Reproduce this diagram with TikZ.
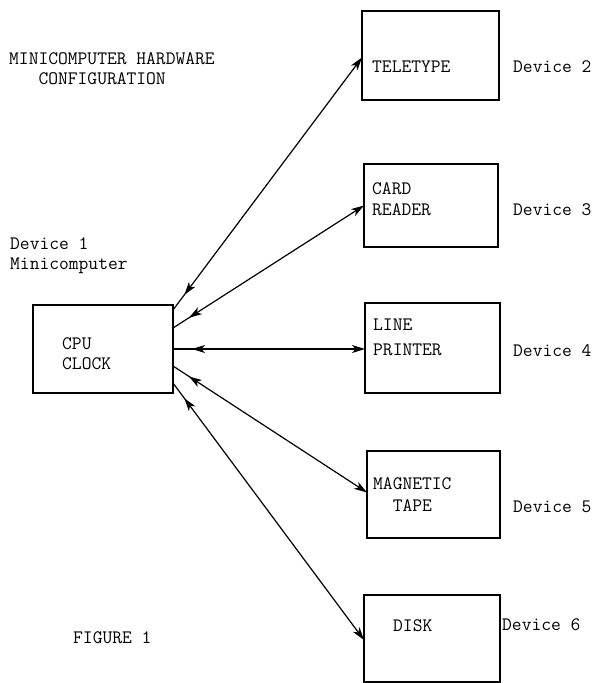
\documentclass[tikz,border=0pt]{standalone}
\usepackage{fontspec}
\usetikzlibrary{arrows.meta,decorations.markings}
\begin{document}
\begin{tikzpicture}[x=1pt,y=-1pt,
  box/.style={draw,line width=2.4pt,rectangle,inner sep=0pt,outer sep=0pt},
  txt/.style={font=\ttfamily\fontsize{19}{20}\selectfont,inner sep=0pt,anchor=base west,align=left},
  tip/.tip={Stealth[length=13pt,width=8pt,inset=3.5pt]},
  link/.style={line width=1.2pt,-tip,postaction={decorate},
    decoration={markings,mark=at position 19pt with {\arrowreversed{tip}}}}]
\useasboundingbox (0,0) rectangle (594,683);
% boxes
\node[box,minimum width=140pt,minimum height=88pt] (cpu) at (103,349) {};
\node[box,minimum width=137pt,minimum height=89pt] (tele) at (430.5,55.5) {};
\node[box,minimum width=134pt,minimum height=83pt] (card) at (431,205.5) {};
\node[box,minimum width=135pt,minimum height=90pt] (lp) at (432.5,348) {};
\node[box,minimum width=133pt,minimum height=87pt] (mt) at (433.5,494.5) {};
\node[box,minimum width=136pt,minimum height=87pt] (disk) at (432,638.5) {};
% texts (multi-line nodes: base = last line)
\node[txt] (title) at (9,84) {MINICOMPUTER HARDWARE\\\phantom{MIN}CONFIGURATION};
\node[txt] (dev1) at (10,269) {Device 1\\Minicomputer};
\node[txt] (cputxt) at (62,369) {CPU\\CLOCK};
\node[txt] (teletxt) at (372,72) {TELETYPE};
\node[txt] (dev2) at (513,72) {Device 2};
\node[txt] (cardtxt) at (372,215) {CARD\\[1pt]READER};
\node[txt] (dev3) at (513,215) {Device 3};
\node[txt] (lptxt) at (373,355) {LINE\\[5pt]PRINTER};
\node[txt] (dev4) at (513,356) {Device 4};
\node[txt] (mttxt) at (373,511) {MAGNETIC\\[2pt]\phantom{MA}TAPE};
\node[txt] (dev5) at (513,512) {Device 5};
\node[txt] (disktxt) at (393,631) {DISK};
\node[txt] (dev6) at (502,630) {Device 6};
\node[txt] (fig) at (73,643) {FIGURE 1};
% connectors
\draw[link] ([yshift=-5pt]cpu.north east) -- ([yshift=-2pt]tele.west);
\draw[link] ([yshift=-23pt]cpu.north east) -- (card.west);
\draw[link] (cpu.east) -- (cpu.east -| lp.west);
\draw[link] ([yshift=-17pt]cpu.east) -- ([yshift=2pt]mt.west);
\draw[link] ([yshift=10pt]cpu.south east) -- ([yshift=-1.5pt]disk.west);
\end{tikzpicture}
\end{document}
